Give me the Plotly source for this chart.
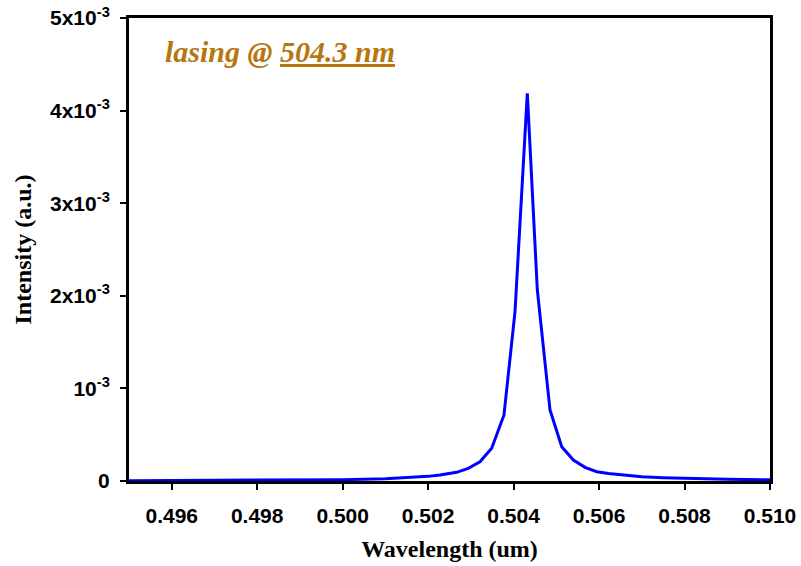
import plotly.graph_objects as go

# Wavelength (um) and intensity (a.u.)
wavelength = [0.4950, 0.4960, 0.4970, 0.4980, 0.4990, 0.5000, 0.5010, 0.5015,
              0.5020, 0.502276, 0.502667, 0.502939, 0.503213, 0.503487,
              0.503775, 0.504033, 0.504321, 0.504555, 0.504852, 0.505126,
              0.505398, 0.505672, 0.505946, 0.506220, 0.506492, 0.5070,
              0.5075, 0.5080, 0.5090, 0.5100]
intensity = [0.003e-3, 0.004e-3, 0.005e-3, 0.007e-3, 0.009e-3, 0.014e-3,
             0.024e-3, 0.033e-3, 0.050e-3, 0.065e-3, 0.094e-3, 0.137e-3,
             0.208e-3, 0.353e-3, 0.713e-3, 1.828e-3, 4.187e-3, 2.063e-3,
             0.767e-3, 0.370e-3, 0.227e-3, 0.148e-3, 0.100e-3, 0.080e-3,
             0.065e-3, 0.045e-3, 0.035e-3, 0.027e-3, 0.018e-3, 0.013e-3]

x_ticks = [0.496, 0.498, 0.500, 0.502, 0.504, 0.506, 0.508, 0.510]
x_ticktext = ["0.496", "0.498", "0.500", "0.502", "0.504", "0.506", "0.508", "0.510"]
y_ticks = [0, 1e-3, 2e-3, 3e-3, 4e-3, 5e-3]
y_ticktext = ["0", "10<sup>-3</sup>", "2x10<sup>-3</sup>", "3x10<sup>-3</sup>",
              "4x10<sup>-3</sup>", "5x10<sup>-3</sup>"]

fig = go.Figure()
fig.add_trace(go.Scatter(x=wavelength, y=intensity, mode="lines",
                         line=dict(color="#0000FF", width=3), showlegend=False,
                         cliponaxis=True))

tick_font = dict(family="Liberation Sans, Arial", size=21, color="black", weight="bold")
title_font = dict(family="Liberation Serif, Times New Roman", size=24, color="black", weight="bold")

fig.update_layout(
    width=801, height=566,
    margin=dict(l=129, r=31, t=18, b=85),
    paper_bgcolor="white", plot_bgcolor="white",
    xaxis=dict(range=[0.495, 0.510], tickvals=x_ticks, ticktext=x_ticktext,
               automargin=False,
               showgrid=False, zeroline=False, showline=True, mirror=True,
               linecolor="black", linewidth=3, ticks="outside", ticklen=6,
               tickwidth=1.5, tickcolor="black", tickfont=tick_font,
               ticklabelstandoff=8,
               title=dict(text="Wavelength (um)", font=title_font, standoff=14)),
    yaxis=dict(range=[0, 5e-3], tickvals=y_ticks, ticktext=y_ticktext,
               automargin=False,
               showgrid=False, zeroline=False, showline=True, mirror=True,
               linecolor="black", linewidth=3, ticks="outside", ticklen=6,
               tickwidth=1.5, tickcolor="black", tickfont=tick_font,
               ticklabelstandoff=6,
               title=dict(text="Intensity (a.u.)", font=title_font, standoff=12)),
)

fig.add_annotation(
    text="lasing @ <u>504.3 nm</u>", xref="paper", yref="paper",
    x=0.053, y=0.9266, xanchor="left", yanchor="middle", showarrow=False,
    font=dict(family="Liberation Serif, Times New Roman", size=30,
              color="#B5770F", weight="bold", style="italic"))

fig.write_html("out.html")
